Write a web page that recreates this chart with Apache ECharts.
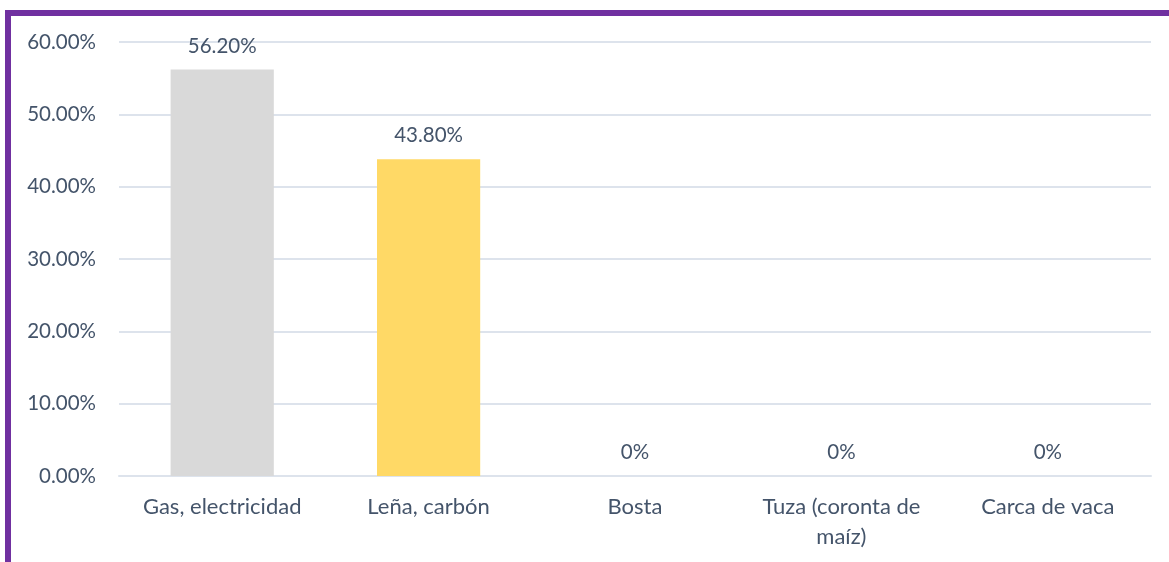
<!DOCTYPE html>
<html>
<head>
<meta charset="utf-8">
<script src="https://cdn.jsdelivr.net/npm/echarts@6/dist/echarts.min.js"></script>
<style>
  html, body { margin: 0; padding: 0; background: #fff; }
  #frame {
    position: absolute; left: 5px; top: 10px; width: 1200px; height: 600px;
    border-top: 6px solid #7030A0; border-left: 6px solid #7030A0;
  }
  #chart { position: absolute; left: 0; top: 0; width: 1169px; height: 562px; }
</style>
</head>
<body>
<div id="frame"></div>
<div id="chart"></div>
<script>
// Fuente de energía utilizada para cocinar
const categories = ['Gas, electricidad', 'Leña, carbón', 'Bosta', 'Tuza (coronta de\nmaíz)', 'Carca de vaca'];
const values = [56.2, 43.8, 0, 0, 0];
const barColors = ['#D9D9D9', '#FFD966', '#D9D9D9', '#D9D9D9', '#D9D9D9'];
const yTicks = [0, 10, 20, 30, 40, 50, 60];

const textColor = '#44546A';
const font = 'Lato, "Open Sans", sans-serif';

const chart = echarts.init(document.getElementById('chart'), null, { renderer: 'canvas' });
chart.setOption({
  backgroundColor: 'transparent',
  animation: false,
  grid: { left: 119, right: 18, top: 42, bottom: 86, containLabel: false },
  xAxis: {
    type: 'category',
    data: categories,
    axisTick: { show: false },
    axisLine: { lineStyle: { color: '#DDE3EC', width: 2 } },
    axisLabel: {
      color: textColor, fontFamily: font, fontSize: 22, margin: 16,
      lineHeight: 30, interval: 0
    }
  },
  yAxis: {
    type: 'value',
    min: yTicks[0], max: yTicks[yTicks.length - 1], interval: 10,
    axisLine: { show: false },
    axisTick: { show: false },
    splitLine: { lineStyle: { color: '#DDE3EC', width: 2 } },
    axisLabel: {
      color: textColor, fontFamily: font, fontSize: 20.5, margin: 23,
      formatter: v => v.toFixed(2) + '%'
    }
  },
  series: [{
    type: 'bar',
    barWidth: '50%',
    data: values.map((v, i) => ({ value: v, itemStyle: { color: barColors[i] } })),
    label: {
      show: true, position: 'top', distance: 13,
      color: textColor, fontFamily: font, fontSize: 20.5,
      formatter: p => p.value === 0 ? '0%' : p.value.toFixed(2) + '%'
    }
  }]
});
</script>
</body>
</html>
